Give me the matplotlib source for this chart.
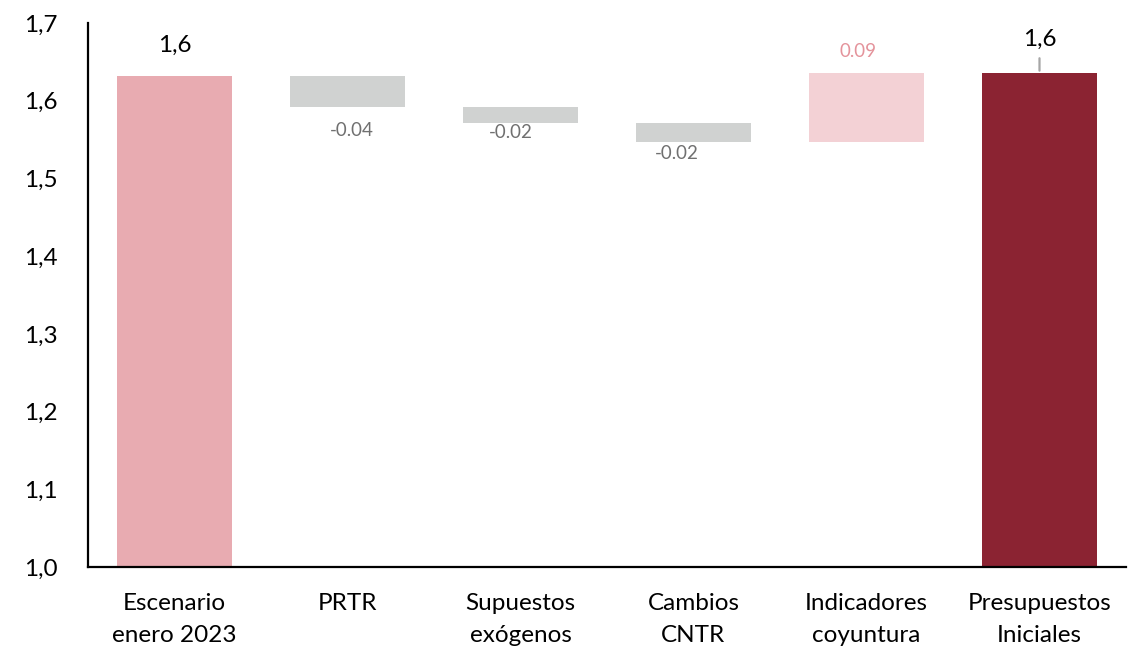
import matplotlib
matplotlib.use("Agg")
import matplotlib.pyplot as plt
import numpy as np

plt.rcParams['font.family'] = ['Lato', 'DejaVu Sans']

# Waterfall data: starting level, successive contributions, final level
categories = ["Escenario\nenero 2023", "PRTR", "Supuestos\nexógenos",
              "Cambios\nCNTR", "Indicadores\ncoyuntura", "Presupuestos\nIniciales"]
start_value = 1.632
deltas = [-0.040, -0.021, -0.024, 0.089]
final_value = start_value + sum(deltas)
y_ticks = [1.0, 1.1, 1.2, 1.3, 1.4, 1.5, 1.6, 1.7]

# Colours
c_start = "#E8ABB1"
c_neg = "#D0D2D1"
c_pos = "#F3D1D5"
c_final = "#8B2332"
c_neg_text = "#707070"
c_pos_text = "#E4939B"

fig = plt.figure(figsize=(11.4, 6.48), dpi=100)
ax = fig.add_axes([88 / 1140, 81 / 648, (1126 - 88) / 1140, (567 - 23) / 648])

x = np.arange(len(categories))
width = 0.67

# Build floating bars
bottoms, heights, colors = [], [], []
level = start_value
bottoms.append(1.0); heights.append(start_value - 1.0); colors.append(c_start)
for d in deltas:
    new = level + d
    bottoms.append(min(level, new))
    heights.append(abs(d))
    colors.append(c_neg if d < 0 else c_pos)
    level = new
bottoms.append(1.0); heights.append(final_value - 1.0); colors.append(c_final)

ax.bar(x, heights, bottom=bottoms, width=width, color=colors, zorder=2)

big = 17.5
small = 13.5

# Value labels
ax.annotate(f"{start_value:.1f}".replace(".", ","), (x[0], start_value),
            xytext=(0, 22), textcoords="offset points", ha="center", va="center",
            fontsize=big, color="black")

label_offsets = [(3, -17), (-7, -7), (-12, -8), (-6, 15)]
level = start_value
for i, d in enumerate(deltas):
    new = level + d
    dx, dy = label_offsets[i]
    ax.annotate(f"{d:.2f}", (x[i + 1], new), xytext=(dx, dy),
                textcoords="offset points", ha="center", va="center",
                fontsize=small, color=c_neg_text if d < 0 else c_pos_text)
    level = new

# Final label with a short leader line
ax.annotate(f"{final_value:.1f}".replace(".", ","), (x[-1], final_value),
            xytext=(0, 24), textcoords="offset points", ha="center", va="center",
            fontsize=big, color="black",
            arrowprops=dict(arrowstyle="-", color="#A6A6A6", lw=1.6,
                            shrinkA=4, shrinkB=1.5))

ax.set_xlim(-0.5, 5.5)
ax.set_ylim(1.0, 1.7)
ax.set_yticks(y_ticks)
ax.set_yticklabels([f"{v:.1f}".replace(".", ",") for v in y_ticks], fontsize=big)
ax.set_xticks(x)
ax.set_xticklabels(categories, fontsize=big, linespacing=1.6)
ax.tick_params(axis="y", length=0, pad=22)
ax.tick_params(axis="x", length=0, pad=19)

for s in ["top", "right"]:
    ax.spines[s].set_visible(False)
ax.spines["left"].set_linewidth(1.6)
ax.spines["bottom"].set_linewidth(1.6)

fig.savefig("out.png", dpi=100)
